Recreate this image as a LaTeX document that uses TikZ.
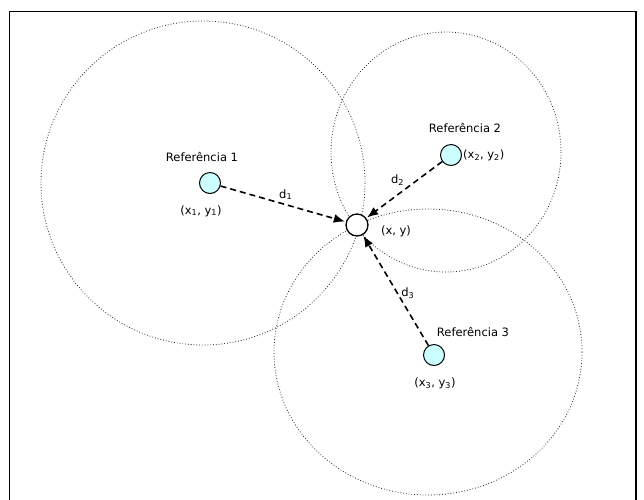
\documentclass[tikz,border=0pt]{standalone}
\usepackage{fontspec}
\setmainfont{DejaVu Sans}
\usetikzlibrary{positioning,arrows.meta}
\definecolor{refcyan}{HTML}{CCFFFF}
\begin{document}
\begin{tikzpicture}[x=1pt,y=-1pt]
    \tikzset{reach/.style={draw=black!85, dotted, line width=0.8pt},
        refnode/.style={circle, draw, line width=1pt, fill=refcyan, minimum size=21pt, inner sep=0pt},
        posnode/.style={circle, draw, line width=1.3pt, fill=white, minimum size=22pt, inner sep=0pt},
        lbl/.style={font=\fontsize{11.5}{13}\selectfont, inner sep=1pt},
        dist/.style={dashed, dash pattern=on 6pt off 4pt, line width=1.6pt, -{Latex[length=11pt,width=9pt]}, shorten >=1pt}}
    \useasboundingbox (0,0) rectangle (644,499);
    \clip (0,0) rectangle (644,499);
    \fill[white] (0,0) rectangle (644,499);
    % frame
    \draw[line width=1.8pt] (9.5,520) -- (9.5,11.5) -- (636,11.5) -- (636,520);
    % ranges
    \draw[reach] (203,183) ellipse [x radius=162, y radius=162];
    \draw[reach] (446,152) ellipse [x radius=115, y radius=120];
    \draw[reach] (428,352) ellipse [x radius=154, y radius=143];
    % nodes
    \node[refnode] (ref1) at (210,183) {};
    \node[refnode] (ref2) at (451,155) {};
    \node[refnode] (ref3) at (434,355) {};
    \node[posnode] (xy) at (357,225) {};
    % labels
    \node[lbl] (name1) at (202,157) {Referência 1};
    \node[lbl] (coord1) at (201,211) {(x\textsubscript{1}, y\textsubscript{1})};
    \node[lbl] (name2) at (465,128) {Referência 2};
    \node[lbl, right=0pt of ref2] (coord2) {(x\textsubscript{2}, y\textsubscript{2})};
    \node[lbl] (name3) at (473,332) {Referência 3};
    \node[lbl] (coord3) at (435,383) {(x\textsubscript{3}, y\textsubscript{3})};
    \node[lbl] (coordxy) at (396,231) {(x, y)};
    % distances
    \draw[dist] (ref1) -- (xy) node[lbl, pos=0.52, above=3pt] {d\textsubscript{1}};
    \draw[dist] (ref2) -- (xy) node[lbl, pos=0.47, above left=1pt] {d\textsubscript{2}};
    \draw[dist] (ref3) -- (xy) node[lbl, pos=0.47, right=2pt] {d\textsubscript{3}};
\end{tikzpicture}
\end{document}
